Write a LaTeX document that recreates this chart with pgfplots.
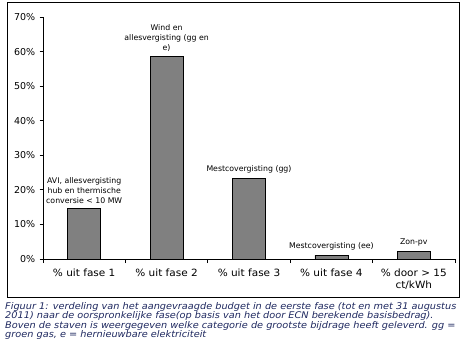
\documentclass[border=0pt]{standalone}
\usepackage{fontspec}
\setmainfont{DejaVu Sans}
\newfontfamily\capfont[FakeStretch=1.06]{DejaVu Sans}
\newfontfamily\xfont[FakeStretch=1.05]{DejaVu Sans}
\usepackage{pgfplots}
\pgfplotsset{compat=1.18}
\definecolor{capblue}{RGB}{30,40,95}
\definecolor{bargray}{RGB}{128,128,128}
\begin{document}
\begin{tikzpicture}[x=1pt,y=1pt]
\path[use as bounding box] (-43,-97) rectangle (420,259);
\draw[line width=0.9pt] (-35.7,-38.7) rectangle (416,257);
\begin{axis}[at={(0,0)}, anchor=south west, width=412pt, height=242pt, scale only axis,
  xmin=-0.5, xmax=4.5, ymin=0, ymax=70,
  axis lines=left, axis line style={-, line width=0.8pt},
  tick align=outside, tick style={black, line width=0.8pt},
  ytick={0,10,...,70},
  yticklabels={0\%,10\%,20\%,30\%,40\%,50\%,60\%,70\%},
  major tick length=3.3pt,
  xtick={0,...,4},
  xticklabels={\% uit fase 1,\% uit fase 2,\% uit fase 3,\% uit fase 4,{\% door > 15\\ct/kWh}},
  major x tick style={draw=none},
  minor xtick={-0.5,0.5,1.5,2.5,3.5,4.5},
  minor tick length=4pt,
  yticklabel style={font=\fontsize{9.5}{12.5}\selectfont, xshift=-1pt},
  xticklabel style={font=\xfont\fontsize{10}{12}\selectfont, align=center, yshift=-3.5pt},
  clip=false,
]
\addplot[ybar, bar width=33pt, fill=bargray, draw=black, line width=0.6pt]
  coordinates {(0,14.6) (1,58.5) (2,23.3) (3,1.1) (4,2.3)};
\begin{scope}[every node/.style={font=\fontsize{7.8}{10}\selectfont, align=center, anchor=south, inner sep=0pt, yshift=5pt}]
\node at (axis cs:0,14.6) {AVI, allesvergisting\\hub en thermische\\conversie < 10 MW};
\node at (axis cs:1,58.5) {Wind en\\allesvergisting (gg en\\e)};
\node at (axis cs:2,23.3) {Mestcovergisting (gg)};
\node at (axis cs:3,1.1) {Mestcovergisting (ee)};
\node at (axis cs:4,2.3) {Zon-pv};
\end{scope}
\end{axis}
\node[anchor=north west, inner sep=0pt, align=left, text=capblue,
  font=\capfont\fontsize{9.2}{9.6}\itshape] at (-38,-43)
  {Figuur 1: verdeling van het aangevraagde budget in de eerste fase (tot en met 31 augustus\\
   2011) naar de oorspronkelijke fase(op basis van het door ECN berekende basisbedrag).\\
   Boven de staven is weergegeven welke categorie de grootste bijdrage heeft geleverd. gg =\\
   groen gas, e = hernieuwbare elektriciteit};
\end{tikzpicture}
\end{document}
